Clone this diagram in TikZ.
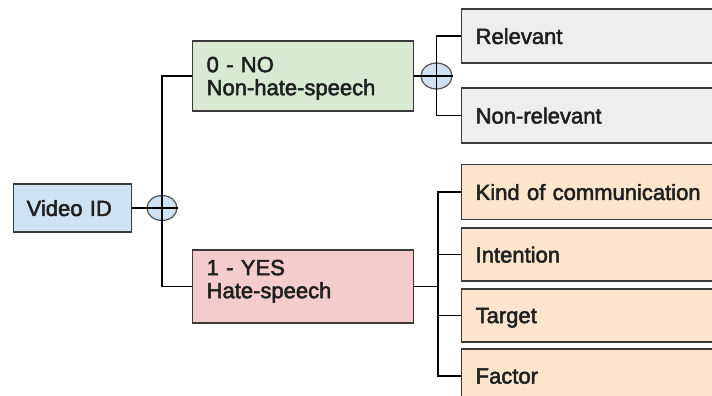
\documentclass[tikz,border=0pt]{standalone}
\usepackage{fontspec}
\setmainfont{Liberation Sans}
\usetikzlibrary{shapes.geometric}

\definecolor{edge}{HTML}{3A3A3A}
\definecolor{idblue}{HTML}{CFE2F3}
\definecolor{nogreen}{HTML}{D9EAD3}
\definecolor{yesred}{HTML}{F4CCCC}
\definecolor{relgray}{HTML}{EEEEEE}
\definecolor{attrorange}{HTML}{FCE5CD}
\definecolor{orring}{HTML}{505050}

% medium-weight lettering: fill and thinly stroke the glyphs
\newcommand{\mediumweight}{\special{pdf:literal direct 2 Tr 0.5 w}}

\tikzset{
  box/.style={draw=edge, line width=1.3pt, rectangle, anchor=west,
    inner xsep=13pt, inner ysep=0pt, align=left, text depth=0pt,
    font=\fontsize{22}{23}\selectfont\mediumweight, text=black!88},
  orgate/.style={ellipse, draw=orring, fill=idblue, line width=1.2pt,
    inner sep=0pt, minimum width=30pt, minimum height=25pt},
  link/.style={draw=black, line width=1.2pt},
}

\begin{document}
\begin{tikzpicture}[x=1pt, y=-1pt]
  \useasboundingbox (0,0) rectangle (712,396);
  \clip (0,0) rectangle (712,396);

  % root and its two classes
  \node[box, fill=idblue, minimum width=118pt, minimum height=48pt,
        text width=92pt, inner xsep=12pt] (vid) at (13,208) {Video ID};
  \node[box, fill=nogreen, minimum width=221pt, minimum height=70pt,
        text width=193pt, inner xsep=14pt, text depth=23pt] (nh) at (192,76)
        {0 - NO\\Non-hate-speech};
  \node[box, fill=yesred, minimum width=221pt, minimum height=73pt,
        text width=193pt, inner xsep=14pt, text depth=38pt] (hs) at (192,286.5)
        {1 - YES\\Hate-speech};

  % sub-categories of non-hate speech
  \node[box, fill=relgray, minimum width=270pt, minimum height=54pt,
        text width=242pt, inner xsep=14pt] (rel) at (461,36) {Relevant};
  \node[box, fill=relgray, minimum width=270pt, minimum height=55pt,
        text width=242pt, inner xsep=14pt] (nrel) at (461,115.5) {Non-relevant};

  % attributes of hate speech
  \node[box, fill=attrorange, minimum width=270pt, minimum height=55pt,
        text width=242pt, inner xsep=14pt] (kind) at (461,192) {Kind of communication};
  \node[box, fill=attrorange, minimum width=270pt, minimum height=53pt,
        text width=242pt, inner xsep=14pt] (intent) at (461,254.5) {Intention};
  \node[box, fill=attrorange, minimum width=270pt, minimum height=53pt,
        text width=242pt, inner xsep=14pt] (target) at (461,315.5) {Target};
  \node[box, fill=attrorange, minimum width=270pt, minimum height=54pt,
        text width=242pt, inner xsep=14pt] (factor) at (461,376) {Factor};

  % exclusive-or gates
  \node[orgate] (or1) at (162,208) {};
  \node[orgate, minimum width=31pt, minimum height=26pt] (or2) at (436.5,76) {};

  \coordinate (hsjoin) at (438,286.5);

  % connectors
  \draw[link] (vid.east) -- (or1.east);
  \draw[link] (nh.west) -| (or1.center) |- (hs.west);
  \draw[link] (nh.east) -- (or2.east);
  \draw[link] (rel.west) -| (or2.center) |- (nrel.west);
  \draw[link] (hs.east) -- (hsjoin);
  \draw[link] (kind.west) -| (hsjoin) |- (factor.west);
  \draw[link] (intent.west) -- (intent.west -| hsjoin);
  \draw[link] (target.west) -- (target.west -| hsjoin);
\end{tikzpicture}
\end{document}
